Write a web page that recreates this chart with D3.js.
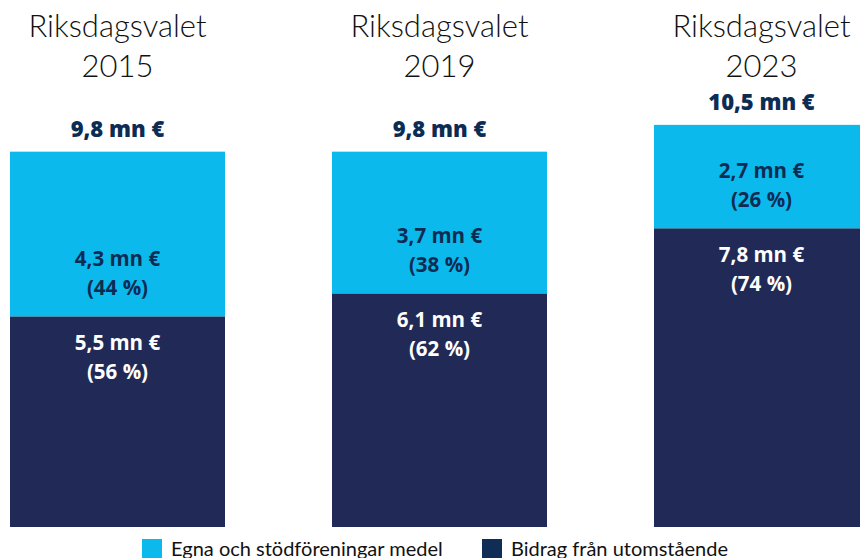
<!DOCTYPE html>
<html lang="sv">
<head>
<meta charset="UTF-8">
<title>Riksdagsvalet – finansiering</title>
<style>
  body { margin: 0; background: #fff; }
  .title { font-family: Lato, "Open Sans", sans-serif; font-weight: 300; font-size: 31px; fill: #111; }
  .total { font-family: "Open Sans", sans-serif; font-weight: 800; font-size: 22px; fill: #0d2c54; }
  .seg { font-family: "Open Sans", sans-serif; font-weight: 700; font-size: 20.5px; }
  .legend { font-family: Lato, sans-serif; font-size: 20px; fill: #111; }
</style>
</head>
<body>
<svg height="558" width="860"></svg>

<script src="https://d3js.org/d3.v7.min.js"></script>
<script>

    // data
    var elections = ["2015", "2019", "2023"];
    var egna = [4.3, 3.7, 2.7];          // Egna och stödföreningar medel
    var bidrag = [5.5, 6.1, 7.8];        // Bidrag från utomstående
    var egnaPct = [44, 38, 26];
    var bidragPct = [56, 62, 74];
    var seriesNames = ["Egna och stödföreningar medel", "Bidrag från utomstående"];

    var fmt = function(v) { return String(v.toFixed(1)).replace(".", ",") + " mn €"; };

    var svg = d3.select("svg");
    var margin = {left: 10, bottom: 31},
        barBottom = 558 - margin.bottom;

    // bars 215 px wide, 107 px apart; the last one runs past the right edge
    var x = d3.scaleBand()
        .domain(elections)
        .range([margin.left, margin.left + 3 * 322 - 107])
        .paddingInner(107 / 322)
        .paddingOuter(0);

    var y = d3.scaleLinear().domain([0, 10]).range([barBottom, barBottom - 383]);

    var colors = { egna: "#0cb9ec", bidrag: "#212a56" };

    var rows = elections.map(function(e, i) {
        return { year: e, egna: egna[i], bidrag: bidrag[i], egnaPct: egnaPct[i], bidragPct: bidragPct[i] };
    });

    var g = svg.selectAll(".bar").data(rows).enter().append("g").attr("class", "bar");

    // bottom segment
    g.append("rect")
        .attr("x", function(d) { return x(d.year); })
        .attr("width", x.bandwidth())
        .attr("y", function(d) { return y(d.bidrag); })
        .attr("height", function(d) { return y(0) - y(d.bidrag); })
        .attr("fill", colors.bidrag);

    // top segment
    g.append("rect")
        .attr("x", function(d) { return x(d.year); })
        .attr("width", x.bandwidth())
        .attr("y", function(d) { return y(d.bidrag + d.egna); })
        .attr("height", function(d) { return y(d.bidrag) - y(d.bidrag + d.egna); })
        .attr("fill", colors.egna);

    var cx = function(d) { return x(d.year) + x.bandwidth() / 2; };

    // titles
    g.append("text").attr("class", "title").attr("text-anchor", "middle")
        .attr("x", cx).attr("y", 37).text("Riksdagsvalet");
    g.append("text").attr("class", "title").attr("text-anchor", "middle")
        .attr("x", cx).attr("y", 77).text(function(d) { return d.year; });

    // totals
    g.append("text").attr("class", "total").attr("text-anchor", "middle")
        .attr("x", cx)
        .attr("y", function(d) { return y(d.egna + d.bidrag) - 15; })
        .text(function(d) { return fmt(d.egna + d.bidrag); });

    // labels in the top segment (sit just above the boundary)
    g.append("text").attr("class", "seg").attr("text-anchor", "middle").attr("fill", "#0d2c54")
        .attr("x", cx).attr("y", function(d) { return y(d.bidrag) - 50; })
        .text(function(d) { return fmt(d.egna); });
    g.append("text").attr("class", "seg").attr("text-anchor", "middle").attr("fill", "#0d2c54")
        .attr("x", cx).attr("y", function(d) { return y(d.bidrag) - 21; })
        .text(function(d) { return "(" + d.egnaPct + " %)"; });

    // labels in the bottom segment (just below the boundary)
    g.append("text").attr("class", "seg").attr("text-anchor", "middle").attr("fill", "#fff")
        .attr("x", cx).attr("y", function(d) { return y(d.bidrag) + 34; })
        .text(function(d) { return fmt(d.bidrag); });
    g.append("text").attr("class", "seg").attr("text-anchor", "middle").attr("fill", "#fff")
        .attr("x", cx).attr("y", function(d) { return y(d.bidrag) + 63; })
        .text(function(d) { return "(" + d.bidragPct + " %)"; });

    // legend
    var legend = svg.append("g").attr("transform", "translate(142, 539)");
    var legendX = [0, 340];
    var legendColors = [colors.egna, "#0f2d55"];
    seriesNames.forEach(function(name, i) {
        legend.append("rect").attr("x", legendX[i]).attr("y", 0)
            .attr("width", 20).attr("height", 20).attr("fill", legendColors[i]);
        legend.append("text").attr("class", "legend")
            .attr("x", legendX[i] + 29).attr("y", 17).text(name);
    });

</script>
</body>
</html>
